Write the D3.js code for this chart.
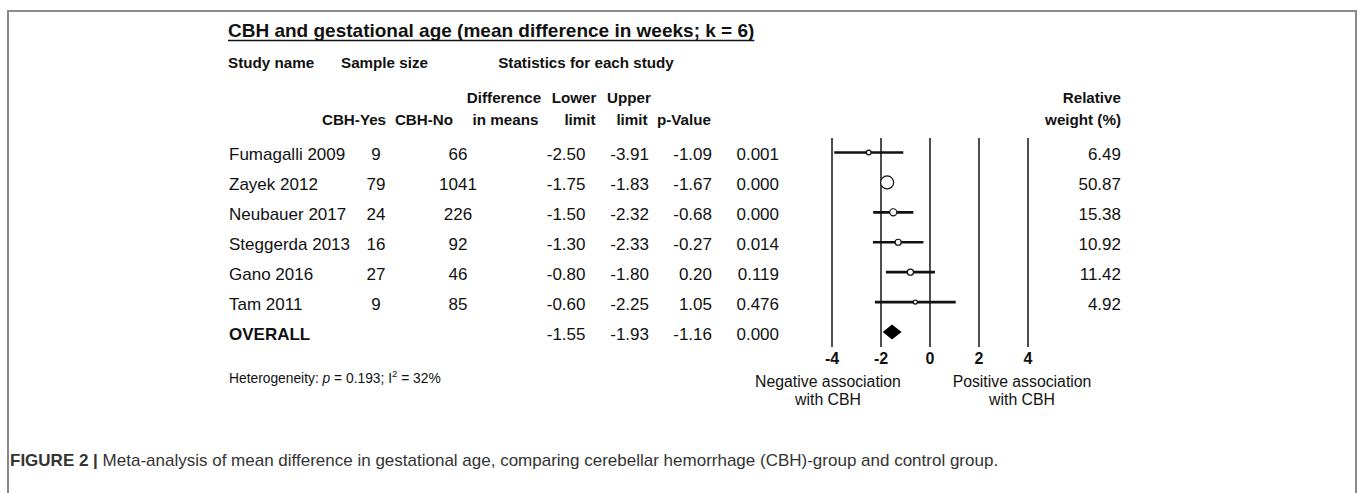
<!DOCTYPE html>
<html>
<head>
<meta charset="utf-8">
<script src="https://cdn.jsdelivr.net/npm/d3@7"></script>
<style>
  body { margin: 0; background: #fff; }
  text { font-family: "Liberation Sans", Arial, sans-serif; fill: #111; }
</style>
</head>
<body>
<div id="chart"><svg width="1360" height="493"></svg></div>
<script>
// study rows
var studies = ["Fumagalli 2009", "Zayek 2012", "Neubauer 2017", "Steggerda 2013", "Gano 2016", "Tam 2011"];
var cbhYes = [9, 79, 24, 16, 27, 9];
var cbhNo = [66, 1041, 226, 92, 46, 85];
var diffs = [-2.50, -1.75, -1.50, -1.30, -0.80, -0.60];
var lowers = [-3.91, -1.83, -2.32, -2.33, -1.80, -2.25];
var uppers = [-1.09, -1.67, -0.68, -0.27, 0.20, 1.05];
var pvals = ["0.001", "0.000", "0.000", "0.014", "0.119", "0.476"];
var weights = [6.49, 50.87, 15.38, 10.92, 11.42, 4.92];
// pooled
var overall = {diff: -1.55, lower: -1.93, upper: -1.16, p: "0.000"};
var ticks = [-4, -2, 0, 2, 4];

var svg = d3.select("#chart").select("svg");

// frame round the figure
svg.append("path")
   .attr("d", "M8,493 V11 H1356 V493")
   .attr("fill", "none")
   .attr("stroke", "#8a8a8a")
   .attr("stroke-width", 2);

// scales
var xScale = d3.scaleLinear().domain([-4, 4]).range([832, 1028]);
var yScale = d3.scaleLinear().domain([0, 6]).range([152.5, 332]);
var rScale = d3.scaleSqrt().domain([0, d3.max(weights)]).range([0, 6.5]);

function txt(x, y, s, opts) {
  opts = opts || {};
  return svg.append("text")
    .attr("x", x).attr("y", y)
    .attr("text-anchor", opts.anchor || "start")
    .attr("font-size", opts.size || 17)
    .attr("font-weight", opts.bold ? "bold" : "normal")
    .text(s);
}

// title with underline
var title = txt(228, 37, "CBH and gestational age (mean difference in weeks; k = 6)", {size: 19, bold: true});
var tw = title.node().getComputedTextLength();
svg.append("line")
   .attr("x1", 228).attr("x2", 228 + tw)
   .attr("y1", 40.5).attr("y2", 40.5)
   .attr("stroke", "#111").attr("stroke-width", 1.6);

// column headers
var hs = 15.2;
txt(228, 68, "Study name", {size: hs, bold: true});
txt(384.5, 68, "Sample size", {size: hs, bold: true, anchor: "middle"});
txt(586, 68, "Statistics for each study", {size: hs, bold: true, anchor: "middle"});
txt(504, 103, "Difference", {size: hs, bold: true, anchor: "middle"});
txt(574, 103, "Lower", {size: hs, bold: true, anchor: "middle"});
txt(629, 103, "Upper", {size: hs, bold: true, anchor: "middle"});
txt(1121, 103, "Relative", {size: hs, bold: true, anchor: "end"});
txt(354, 125, "CBH-Yes", {size: hs, bold: true, anchor: "middle"});
txt(424, 125, "CBH-No", {size: hs, bold: true, anchor: "middle"});
txt(505.5, 125, "in means", {size: hs, bold: true, anchor: "middle"});
txt(580, 125, "limit", {size: hs, bold: true, anchor: "middle"});
txt(632, 125, "limit", {size: hs, bold: true, anchor: "middle"});
txt(684, 125, "p-Value", {size: hs, bold: true, anchor: "middle"});
txt(1121, 125, "weight (%)", {size: hs, bold: true, anchor: "end"});

// table rows
studies.forEach(function(name, i) {
  var yb = yScale(i) + 7.5;
  txt(229, yb, name);
  txt(376, yb, cbhYes[i], {anchor: "middle"});
  txt(458, yb, cbhNo[i], {anchor: "middle"});
  txt(585.5, yb, diffs[i].toFixed(2), {anchor: "end"});
  txt(649, yb, lowers[i].toFixed(2), {anchor: "end"});
  txt(712, yb, uppers[i].toFixed(2), {anchor: "end"});
  txt(779, yb, pvals[i], {anchor: "end"});
  txt(1121, yb, weights[i].toFixed(2), {anchor: "end"});
});
var yo = yScale(6) + 7.5;
txt(229, yo, "OVERALL", {bold: true});
txt(585.5, yo, overall.diff.toFixed(2), {anchor: "end"});
txt(649, yo, overall.lower.toFixed(2), {anchor: "end"});
txt(712, yo, overall.upper.toFixed(2), {anchor: "end"});
txt(779, yo, overall.p, {anchor: "end"});

// vertical reference lines
svg.append("g").selectAll("line")
   .data(ticks).enter().append("line")
   .attr("x1", function(d){return xScale(d)})
   .attr("x2", function(d){return xScale(d)})
   .attr("y1", 138).attr("y2", 347)
   .attr("stroke", "#222").attr("stroke-width", 1.6);

// confidence intervals
svg.append("g").selectAll("line")
   .data(studies).enter().append("line")
   .attr("x1", function(d, i){return xScale(lowers[i])})
   .attr("x2", function(d, i){return xScale(uppers[i])})
   .attr("y1", function(d, i){return yScale(i)})
   .attr("y2", function(d, i){return yScale(i)})
   .attr("stroke", "#111").attr("stroke-width", 2.6);

// point estimates sized by weight
svg.append("g").selectAll("circle")
   .data(studies).enter().append("circle")
   .attr("cx", function(d, i){return xScale(diffs[i])})
   .attr("cy", function(d, i){return yScale(i)})
   .attr("r", function(d, i){return rScale(weights[i])})
   .attr("fill", "#fff").attr("stroke", "#111").attr("stroke-width", 1.2);

// pooled diamond
var dy = yScale(6);
svg.append("path")
   .attr("d", d3.line()([
      [xScale(overall.lower), dy],
      [xScale(overall.diff), dy - 7.5],
      [xScale(overall.upper), dy],
      [xScale(overall.diff), dy + 7.5]]) + "Z")
   .attr("fill", "#000");

// tick labels
svg.append("g").selectAll("text")
   .data(ticks).enter().append("text")
   .attr("x", function(d){return xScale(d)})
   .attr("y", 364)
   .attr("text-anchor", "middle")
   .attr("font-size", 16)
   .attr("font-weight", "bold")
   .text(function(d){return d});

// direction notes
txt(828, 387, "Negative association", {size: 15.8, anchor: "middle"});
txt(828, 405, "with CBH", {size: 15.8, anchor: "middle"});
txt(1022, 387, "Positive association", {size: 15.8, anchor: "middle"});
txt(1022, 405, "with CBH", {size: 15.8, anchor: "middle"});

// heterogeneity
var het = txt(229, 383, "", {size: 13.8});
het.append("tspan").text("Heterogeneity: ");
het.append("tspan").attr("font-style", "italic").text("p");
het.append("tspan").text(" = 0.193; I");
het.append("tspan").attr("font-size", 9.5).attr("dy", -6).text("2");
het.append("tspan").attr("dy", 6).text(" = 32%");

// caption
var cap = svg.append("text").attr("x", 10).attr("y", 466)
   .attr("font-size", 17).style("fill", "#333");
cap.append("tspan").attr("font-weight", "bold").style("fill", "#333").text("FIGURE 2 | ");
cap.append("tspan").style("fill", "#333")
   .text("Meta-analysis of mean difference in gestational age, comparing cerebellar hemorrhage (CBH)-group and control group.");
</script>
</body>
</html>
